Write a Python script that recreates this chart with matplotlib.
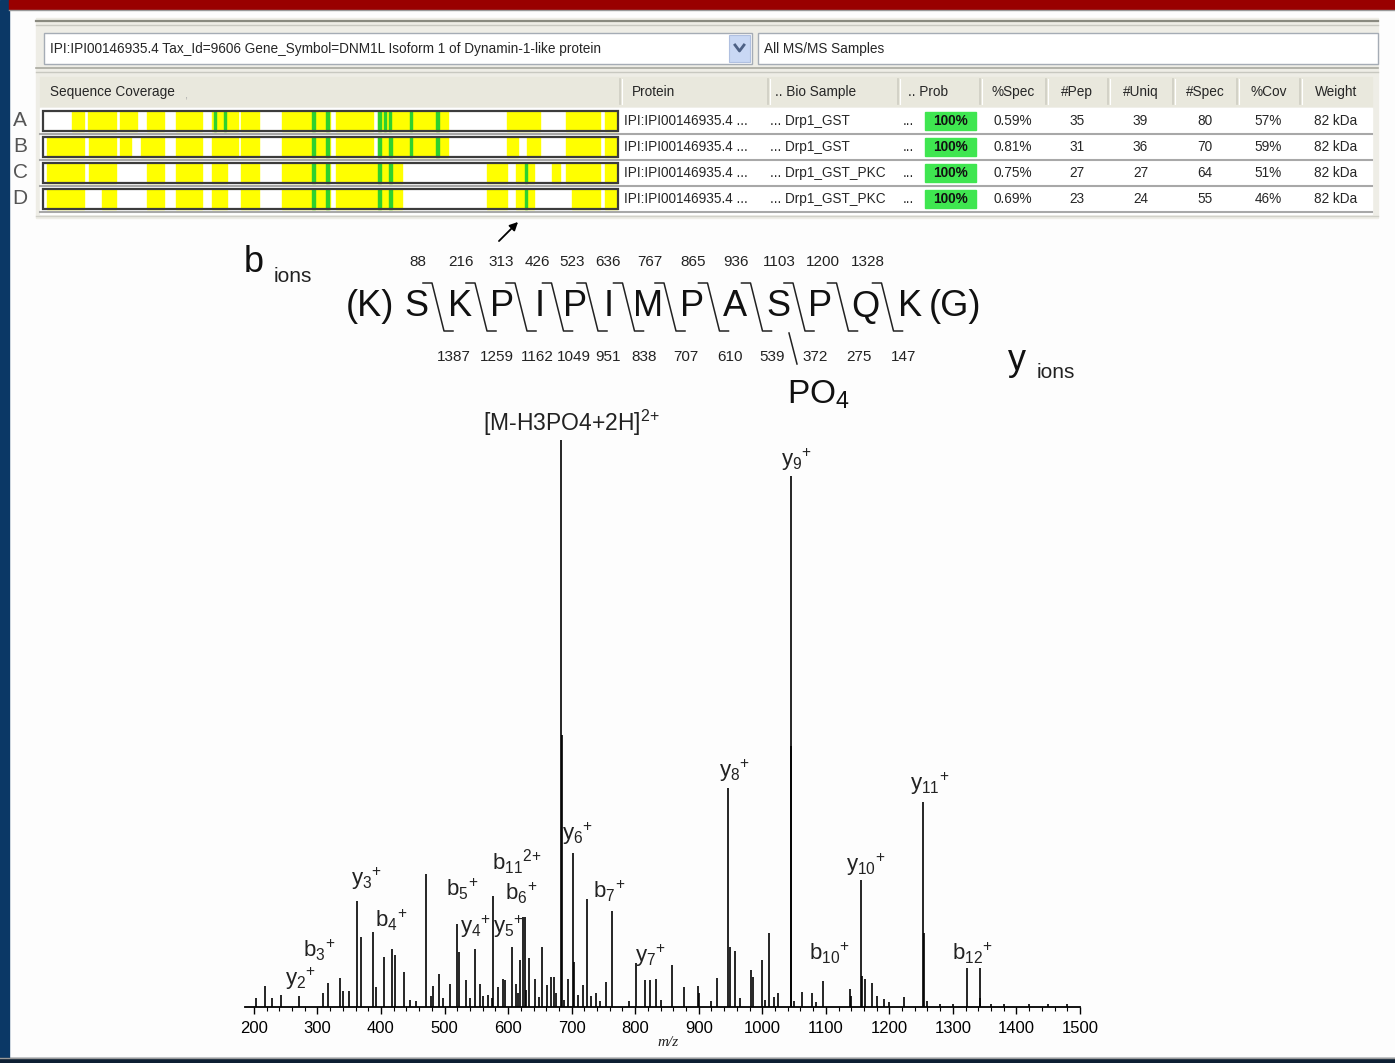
import matplotlib
matplotlib.use("Agg")
import matplotlib.pyplot as plt
from matplotlib.patches import Rectangle
from matplotlib.ticker import MultipleLocator

W, H = 1395, 1063

SANS = ["Liberation Sans", "DejaVu Sans"]
plt.rcParams["font.family"] = SANS
plt.rcParams["mathtext.fontset"] = "custom"
plt.rcParams["mathtext.rm"] = "Liberation Sans"
plt.rcParams["mathtext.it"] = "Liberation Sans:italic"
plt.rcParams["mathtext.bf"] = "Liberation Sans:bold"

# ---------------- DATA ---------------- #
protein_desc = "IPI:IPI00146935.4 Tax_Id=9606 Gene_Symbol=DNM1L Isoform 1 of Dynamin-1-like protein"
sample_filter = "All MS/MS Samples"
row_labels = ["A", "B", "C", "D"]
protein_ids = ["IPI:IPI00146935.4 ..."] * 4
bio_samples = ["... Drp1_GST", "... Drp1_GST", "... Drp1_GST_PKC", "... Drp1_GST_PKC"]
prob = ["100%"] * 4
spec_pct = ["0.59%", "0.81%", "0.75%", "0.69%"]
n_pep = [35, 31, 27, 23]
n_uniq = [39, 36, 27, 24]
n_spec = [80, 70, 64, 55]
cov_pct = ["57%", "59%", "51%", "46%"]
weight = ["82 kDa"] * 4

seq_len = 736
# covered residue ranges (start, end) per sample
cov_A = [(37, 52), (58, 93), (99, 120), (133, 155), (170, 203), (216, 250), (254, 276),
         (306, 367), (375, 423), (429, 519), (594, 636), (670, 713), (719, 736)]
cov_B = [(5, 52), (59, 93), (99, 113), (125, 155), (170, 203), (216, 250), (254, 276),
         (306, 367), (375, 423), (429, 519), (594, 608), (619, 636), (670, 713), (719, 736)]
cov_C = [(5, 52), (59, 93), (133, 155), (170, 203), (216, 235), (254, 276), (306, 367),
         (375, 459), (568, 594), (606, 628), (651, 662), (670, 713), (719, 736)]
cov_D = [(5, 52), (75, 94), (133, 155), (170, 203), (216, 235), (254, 276), (306, 367),
         (375, 459), (568, 594), (606, 628), (677, 713), (719, 736)]
# modified residues (green marks)
mod_A = [220, 233, 346, 364, 431, 438, 444, 471, 505]
mod_B = [346, 364, 431, 445, 471, 505]
mod_C = [346, 364, 431, 445, 618]
mod_D = [346, 364, 431, 445, 618]

# peptide sequence and fragment ions
residues = ["(K)", "S", "K", "P", "I", "P", "I", "M", "P", "A", "S", "P", "Q", "K", "(G)"]
b_ions = [88, 216, 313, 426, 523, 636, 767, 865, 936, 1103, 1200, 1328]
y_ions = [1387, 1259, 1162, 1049, 951, 838, 707, 610, 539, 372, 275, 147]

# MS/MS spectrum (m/z, relative intensity %)
peak_mz = [204, 217, 229, 243, 271, 309, 317, 335, 340, 349, 362.7, 369, 387, 392.5, 404,
           417.7, 422.4, 435.5, 446, 455, 471, 478, 482.6, 492, 498, 508.8, 519.8, 522, 534,
           540, 548.5, 556, 560, 568, 575, 577, 584, 592, 595.6, 606, 612, 615, 619, 622.7,
           626.4, 628, 633, 642, 648, 654, 662, 667, 672.5, 676, 683.5, 684.5, 688, 694.5,
           702, 703, 710.7, 718, 724.6, 730, 738, 745, 753.5, 763, 790, 800.7, 816, 824,
           833.5, 840, 858, 876.6, 898.6, 900, 920, 928, 945.7, 949, 957, 965, 983, 985,
           999, 1005, 1010, 1019, 1025, 1044.6, 1045.6, 1050, 1063, 1077.5, 1085, 1096,
           1138, 1140, 1155.5, 1157, 1162, 1173, 1180, 1191, 1200, 1223, 1253, 1254, 1260,
           1280, 1300, 1322, 1342, 1343, 1360, 1380, 1420, 1450, 1480]
peak_int = [1.5, 3.7, 1.6, 2.2, 1.9, 2.5, 4.3, 5.2, 2.9, 2.8, 18.7, 12.3, 13.2, 3.5, 8.9,
            10.3, 9.2, 6.2, 1.2, 1.0, 23.4, 2.0, 3.7, 5.9, 1.5, 4.1, 14.6, 9.7, 4.7,
            1.5, 10.2, 4.1, 2.0, 2.2, 1.5, 19.5, 3.5, 5.0, 4.7, 10.5, 4.1, 2.5, 8.3, 15.8,
            15.9, 3.0, 8.7, 5.0, 1.8, 10.6, 3.8, 5.3, 5.3, 2.5, 100, 48, 1.2, 5.0,
            27.2, 8.0, 2.2, 3.8, 19.1, 2.0, 2.5, 1.0, 4.4, 16.9, 1.0, 7.7, 4.8, 4.8,
            5.0, 1.2, 7.4, 3.6, 3.7, 2.5, 1.0, 5.2, 38.6, 10.6, 9.8, 1.5, 6.5, 5.3,
            8.3, 1.2, 13.0, 1.8, 2.4, 93.7, 46, 1.0, 2.7, 2.4, 0.8, 4.5,
            3.1, 2.0, 22.4, 5.5, 5.0, 4.2, 2.0, 1.4, 0.8, 1.8, 36.2, 13.0, 1.0,
            0.6, 0.6, 6.9, 6.9, 1.5, 0.5, 0.5, 0.5, 0.5, 0.5]

# annotated ions: label, m/z and height where the label sits
ion_names = ["y2", "b3", "y3", "b4", "b5", "y4", "y5", "b11", "b6", "y6", "b7", "y7",
             "y8", "y9", "b10", "y10", "y11", "b12"]
ion_charge = ["+", "+", "+", "+", "+", "+", "+", "2{+}", "+", "+", "+", "+",
              "+", "+", "+", "+", "+", "+"]
ion_label_mz = [274, 303, 378, 416, 527, 549, 600, 613, 621, 709, 759, 824,
                957, 1054, 1106, 1163, 1263, 1331]
ion_label_int = [5.0, 10.0, 22.6, 15.3, 20.8, 14.1, 14.1, 25.6, 20.1, 30.5, 20.3, 9.0,
                 41.6, 96.5, 9.4, 25.1, 39.4, 9.4]
precursor_label = "[M-H3PO4+2H]"
precursor_mz = 699
precursor_int = 103


def px_axes(x0, y0, x1, y1):
    return fig.add_axes([x0 / W, 1 - y1 / H, (x1 - x0) / W, (y1 - y0) / H])


fig = plt.figure(figsize=(W / 100, H / 100), dpi=100)
fig.patch.set_facecolor("#fdfdfd")

# background canvas in pixel units
bg = fig.add_axes([0, 0, 1, 1])
bg.set_xlim(0, W)
bg.set_ylim(H, 0)
bg.axis("off")

# slide frame
bg.add_patch(Rectangle((0, 0), 9, H, color="#0b3866"))
bg.add_patch(Rectangle((9, 0), W, 9, color="#990000"))
bg.plot([9, W], [9.5, 9.5], color="#9a9a9a", lw=1)
bg.add_patch(Rectangle((0, 1058), W, 5, color="#0d1f33"))
bg.plot([0, W], [1057.5, 1057.5], color="#9a9a9a", lw=1)

# ---------------- TABLE ---------------- #
FS = 9.8
TXT = "#262626"
bg.add_patch(Rectangle((36, 18), 1342, 200, color="#eeede6"))
bg.plot([36, 1378], [21, 21], color="#8a8a80", lw=1.6)
bg.plot([36, 1378], [25, 25], color="#c8c8c0", lw=1)

# combo boxes
bg.add_patch(Rectangle((44, 33), 708, 31, facecolor="white", edgecolor="#a5acb5", lw=1))
bg.text(50, 49, protein_desc, fontsize=FS, va="center", color=TXT)
bg.add_patch(Rectangle((729, 35), 21, 27, facecolor="#c9d8f4", edgecolor="#b0c0e0", lw=0.8))
bg.plot([735, 739.5, 744], [45, 51, 45], color="#4d6185", lw=2)
bg.add_patch(Rectangle((758, 33), 620, 31, facecolor="white", edgecolor="#a5acb5", lw=1))
bg.text(764, 49, sample_filter, fontsize=FS, va="center", color=TXT)
bg.plot([36, 1378], [68, 68], color="#a9a9a0", lw=1.2)
bg.plot([36, 1378], [72, 72], color="#c8c8c0", lw=1)

# header
col_edges = [620, 768, 898, 980, 1046, 1108, 1173, 1237, 1300, 1372]
bg.add_patch(Rectangle((40, 77), 1332, 29, color="#e9e8dd"))
bg.text(50, 92, "Sequence Coverage", fontsize=FS, va="center", color=TXT)
bg.text(184, 95, ",", fontsize=8, va="center", color="#aaaaaa")
for xe in col_edges[:-1]:
    bg.plot([xe, xe], [79, 104], color="#cfcec3", lw=1.2)
    bg.plot([xe + 1.5, xe + 1.5], [79, 104], color="white", lw=0.8)
bg.text(632, 92, "Protein", fontsize=FS, va="center", color=TXT)
bg.text(775, 92, ".. Bio Sample", fontsize=FS, va="center", color=TXT)
bg.text(908, 92, ".. Prob", fontsize=FS, va="center", color=TXT)
num_headers = ["%Spec", "#Pep", "#Uniq", "#Spec", "%Cov", "Weight"]
for i, hname in enumerate(num_headers):
    xc = (col_edges[i + 3] + col_edges[i + 4]) / 2
    bg.text(xc, 92, hname, fontsize=FS, va="center", ha="center", color=TXT)

# rows
bg.add_patch(Rectangle((40, 108), 1332, 106, color="white"))
row_y = [121, 147, 173, 199]
for i in range(4):
    y = row_y[i]
    bg.plot([40, 1372], [y + 13, y + 13], color="#a8a8a8", lw=1.5)
    bg.text(20, y - 1, row_labels[i], fontsize=15, ha="center", va="center",
            color="#555555", fontweight="light")
    bg.text(624, y, protein_ids[i], fontsize=FS, va="center", color=TXT)
    bg.text(770, y, bio_samples[i], fontsize=FS, va="center", color=TXT)
    bg.text(903, y, "...", fontsize=FS, va="center", color=TXT)
    bg.add_patch(Rectangle((925, y - 9), 51, 18, color="#3fe650"))
    bg.text(950, y, prob[i], fontsize=FS, va="center", ha="center",
            fontweight="bold", color="#111111")
    vals = [spec_pct[i], n_pep[i], n_uniq[i], n_spec[i], cov_pct[i], weight[i]]
    for j, v in enumerate(vals):
        xc = (col_edges[j + 3] + col_edges[j + 4]) / 2
        bg.text(xc, y, str(v), fontsize=FS, va="center", ha="center", color=TXT)
bg.plot([36, 1378], [216, 216], color="#d0d0c8", lw=1)

# sequence coverage bars
cax = px_axes(43, 108, 618, 212)
cax.set_xlim(0, seq_len)
cax.set_ylim(4, 0)
cax.axis("off")
coverages = [cov_A, cov_B, cov_C, cov_D]
mods = [mod_A, mod_B, mod_C, mod_D]
for i in range(4):
    y0 = i + 0.13
    hh = 0.76
    cax.add_patch(Rectangle((0, y0), seq_len, hh, facecolor="white", edgecolor="none"))
    cax.broken_barh([(s, e - s) for s, e in coverages[i]], (y0, hh), color="#ffff00")
    cax.broken_barh([(m - 1.6, 3.2) for m in mods[i]], (y0, hh), color="#2ed12e")
    cax.add_patch(Rectangle((0, y0), seq_len, hh, facecolor="none",
                            edgecolor="#3c3c3c", lw=1.6, clip_on=False))

bg.annotate("", xy=(520, 220), xytext=(497, 243),
            arrowprops=dict(arrowstyle="-|>", color="black", lw=1.3, mutation_scale=12))

# ---------------- PEPTIDE SCHEME ---------------- #
res_x = [370, 416, 460, 502, 540, 575, 609, 648, 692, 735, 778, 820, 865, 910, 955]
for r, x in zip(residues, res_x):
    bg.text(x, 307, r, fontsize=26, ha="center", va="center", color="#111111")
for k in range(len(b_ions)):
    cx = (res_x[k + 1] + res_x[k + 2]) / 2
    bg.plot([cx - 15, cx - 6, cx + 6, cx + 15], [283, 283, 331, 331], color="#222222", lw=1.1)
    bg.text(cx - 20, 262, str(b_ions[k]), fontsize=11, ha="center", va="center", color="#222222")
    bg.text(cx + 16, 357, str(y_ions[k]), fontsize=11, ha="center", va="center", color="#222222")
bg.plot([789, 797], [333, 364], color="#222222", lw=1.1)
bg.text(818, 395, "PO$_4$", fontsize=24, ha="center", va="center", color="#111111")
bg.text(254, 262, "b", fontsize=26, ha="center", va="center", color="#111111")
bg.text(293, 277, "ions", fontsize=15, ha="center", va="center", color="#222222")
bg.text(1017, 360, "y", fontsize=26, ha="center", va="center", color="#111111")
bg.text(1056, 372, "ions", fontsize=15, ha="center", va="center", color="#222222")

# ---------------- SPECTRUM ---------------- #
ax = px_axes(245, 440, 1080, 1007)
ax.set_xlim(186, 1497)
ax.set_ylim(0, 100)
ax.patch.set_alpha(0)
for s in ["left", "right", "top"]:
    ax.spines[s].set_visible(False)
ax.spines["bottom"].set_linewidth(1.3)
ax.vlines(peak_mz, 0, peak_int, color="black", lw=1.2)
ax.set_yticks([])
ax.set_xticks(range(200, 1501, 100))
ax.xaxis.set_minor_locator(MultipleLocator(20))
ax.tick_params(axis="x", which="major", direction="out", length=5, width=1, pad=5, labelsize=12)
ax.tick_params(axis="x", which="minor", direction="out", length=3, width=0.8)
bg.text(668, 1043, "m/z", fontsize=11, style="italic", family=["Liberation Serif"],
        ha="center", va="center", color="#222222")

for name, ch, mz, it in zip(ion_names, ion_charge, ion_label_mz, ion_label_int):
    lab = r"$\mathrm{%s}_{%s}{}^{%s}$" % (name[0], name[1:], ch)
    ax.text(mz, it, lab, fontsize=16, ha="center", va="center", clip_on=False, color="#222222")
ax.text(precursor_mz, precursor_int, precursor_label + r"$^{2{+}}$", fontsize=16.5,
        ha="center", va="center", clip_on=False, color="#222222")

fig.savefig("out.png", dpi=100, facecolor=fig.get_facecolor())
